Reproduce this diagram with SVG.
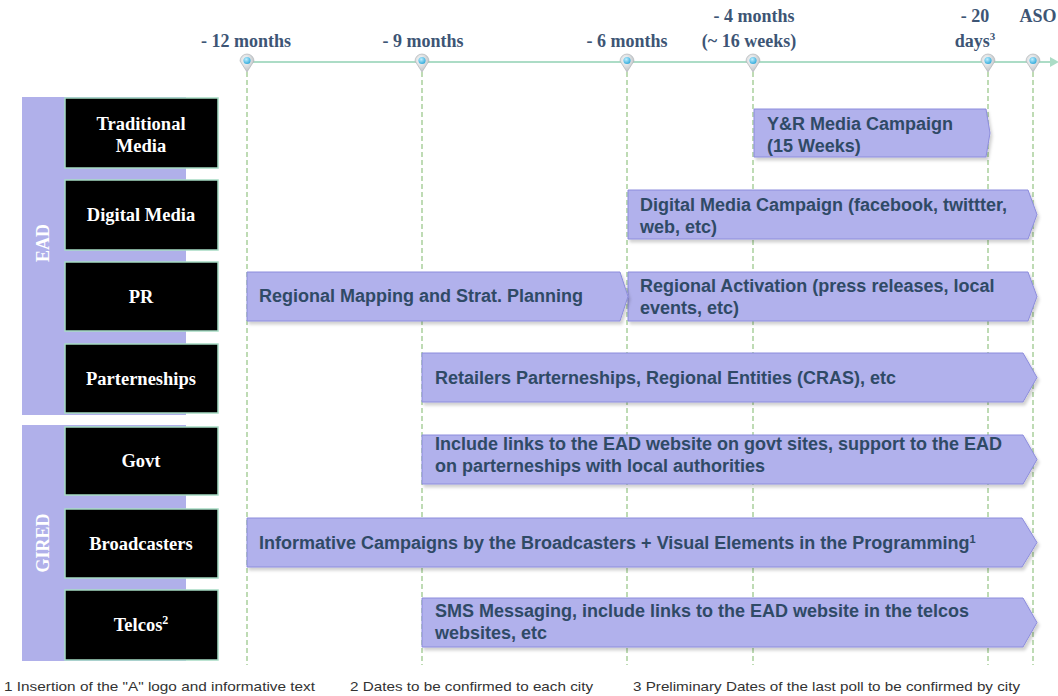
<svg xmlns="http://www.w3.org/2000/svg" width="1058" height="696" viewBox="0 0 1058 696">
<style>
.tl{font-family:"Liberation Serif","Times New Roman",serif;font-weight:bold;font-size:18px;fill:#3d5575;text-anchor:middle}
.box{fill:#000;stroke:#a6dcc4;stroke-width:1.5}
.bt{font-family:"Liberation Serif","Times New Roman",serif;font-weight:bold;font-size:18.5px;fill:#fff;text-anchor:middle}
.grp{fill:#b0b0ea}
.gt{font-family:"Liberation Serif","Times New Roman",serif;font-weight:bold;font-size:18px;fill:#fff;text-anchor:middle}
.bar{fill:#b1b1ec;stroke:#8c8cdc;stroke-width:1;filter:url(#sh)}
.bx{font-family:"Liberation Sans",Arial,sans-serif;font-weight:bold;font-size:18px;fill:#2f4a66}
.vl{stroke:#a9cf9c;stroke-width:1.5;stroke-dasharray:5 3;fill:none}
.fn{font-family:"Liberation Sans",Arial,sans-serif;font-size:13px;fill:#333}
</style>
<defs>
<filter id="sh" x="-5%" y="-20%" width="110%" height="150%">
<feDropShadow dx="2" dy="3" stdDeviation="1.5" flood-color="#000" flood-opacity="0.18"/>
</filter>
<radialGradient id="pg" cx="0.4" cy="0.35" r="0.7">
<stop offset="0" stop-color="#ffffff"/>
<stop offset="1" stop-color="#b8bcc0"/>
</radialGradient>
<radialGradient id="bd" cx="0.4" cy="0.35" r="0.7">
<stop offset="0" stop-color="#bfefff"/>
<stop offset="1" stop-color="#2aa6d8"/>
</radialGradient>
<g id="pin">
<path d="M-7,0 A7,7 0 1 1 7,0 L0,11 Z" fill="url(#pg)" stroke="#a8acb0" stroke-width="0.6"/>
<circle cx="0" cy="-0.5" r="3.6" fill="url(#bd)"/>
</g>
</defs>
<rect width="1058" height="696" fill="#fff"/>

<g id="connectors">
<line class="vl" x1="247" y1="72" x2="247" y2="665"/>
<line class="vl" x1="422" y1="72" x2="422" y2="665"/>
<line class="vl" x1="627" y1="72" x2="627" y2="665"/>
<line class="vl" x1="753" y1="72" x2="753" y2="665"/>
<line class="vl" x1="988" y1="72" x2="988" y2="665"/>
<line class="vl" x1="1033" y1="72" x2="1033" y2="665"/>
<line x1="247" y1="62" x2="1052" y2="62" stroke="#acdcc6" stroke-width="2"/>
<path d="M1050,57 L1059,62 L1050,67 Z" fill="#acdcc6"/>
</g>

<g id="timeline">
<use href="#pin" x="247" y="61"/>
<use href="#pin" x="422" y="61"/>
<use href="#pin" x="627" y="61"/>
<use href="#pin" x="753" y="61"/>
<use href="#pin" x="988" y="61"/>
<use href="#pin" x="1033" y="61"/>
<text class="tl" x="246" y="47">- 12 months</text>
<text class="tl" x="423" y="47">- 9 months</text>
<text class="tl" x="627" y="47">- 6 months</text>
<text class="tl" x="754" y="22">- 4 months</text>
<text class="tl" x="749" y="47">(~ 16 weeks)</text>
<text class="tl" x="975" y="22">- 20</text>
<text class="tl" x="975" y="47">days<tspan font-size="11" dy="-7">3</tspan></text>
<text class="tl" x="1038" y="22">ASO</text>
</g>

<g id="group-EAD">
<rect class="grp" x="22" y="97" width="164" height="318"/>
<text class="gt" transform="translate(49,243) rotate(-90)">EAD</text>
</g>
<g id="group-GIRED">
<rect class="grp" x="22" y="425" width="164" height="236"/>
<text class="gt" transform="translate(49,543) rotate(-90)">GIRED</text>
</g>

<g id="node-traditional-media">
<rect class="box" x="65" y="98" width="153" height="70"/>
<text class="bt" x="141" y="130">Traditional</text>
<text class="bt" x="141" y="152">Media</text>
</g>
<g id="node-digital-media">
<rect class="box" x="65" y="180" width="153" height="70"/>
<text class="bt" x="141" y="221">Digital Media</text>
</g>
<g id="node-pr">
<rect class="box" x="65" y="262" width="153" height="69"/>
<text class="bt" x="141" y="303">PR</text>
</g>
<g id="node-parterneships">
<rect class="box" x="65" y="344" width="153" height="69"/>
<text class="bt" x="141" y="385">Parterneships</text>
</g>
<g id="node-govt">
<rect class="box" x="65" y="427" width="153" height="68"/>
<text class="bt" x="141" y="467">Govt</text>
</g>
<g id="node-broadcasters">
<rect class="box" x="65" y="509" width="153" height="69"/>
<text class="bt" x="141" y="550">Broadcasters</text>
</g>
<g id="node-telcos">
<rect class="box" x="65" y="590" width="153" height="70"/>
<text class="bt" x="141" y="631">Telcos<tspan font-size="12" dy="-7">2</tspan></text>
</g>

<g id="bar-yr">
<path class="bar" d="M754,109 H986 L990,133 L986,157 H754 Z"/>
<text class="bx" x="767" y="130">Y&amp;R Media Campaign</text>
<text class="bx" x="767" y="152">(15 Weeks)</text>
</g>
<g id="bar-digital">
<path class="bar" d="M628,190 H1028 L1037,214.5 L1028,239 H628 Z"/>
<text class="bx" x="640" y="211">Digital Media Campaign (facebook, twittter,</text>
<text class="bx" x="640" y="233">web, etc)</text>
</g>
<g id="bar-pr-activation">
<path class="bar" d="M628,272 H1028 L1037,296.5 L1028,321 H628 Z"/>
<text class="bx" x="640" y="292">Regional Activation (press releases, local</text>
<text class="bx" x="640" y="314">events, etc)</text>
</g>
<g id="bar-pr-mapping">
<path class="bar" d="M247,272 H620 L628,296.5 L620,321 H247 Z"/>
<text class="bx" x="259" y="302">Regional Mapping and Strat. Planning</text>
</g>
<g id="bar-parterneships">
<path class="bar" d="M422,353 H1023 L1037,377.5 L1023,402 H422 Z"/>
<text class="bx" x="435" y="384">Retailers Parterneships, Regional Entities (CRAS), etc</text>
</g>
<g id="bar-govt">
<path class="bar" d="M422,435 H1023 L1037,459.5 L1023,484 H422 Z"/>
<text class="bx" x="435" y="450">Include links to the EAD website on govt sites, support to the EAD</text>
<text class="bx" x="435" y="472">on parterneships with local authorities</text>
</g>
<g id="bar-broadcasters">
<path class="bar" d="M247,518 H1022 L1037,542.5 L1022,567 H247 Z"/>
<text class="bx" x="259" y="549">Informative Campaigns by the Broadcasters + Visual Elements in the Programming<tspan font-size="11" dy="-6">1</tspan></text>
</g>
<g id="bar-telcos">
<path class="bar" d="M422,598 H1023 L1037,622.5 L1023,647 H422 Z"/>
<text class="bx" x="435" y="617">SMS Messaging, include links to the EAD website in the telcos</text>
<text class="bx" x="435" y="639">websites, etc</text>
</g>

<g id="footnotes">
<text class="fn" x="4" y="691" textLength="311" lengthAdjust="spacingAndGlyphs">1 Insertion of the "A" logo and informative text</text>
<text class="fn" x="350" y="691" textLength="243" lengthAdjust="spacingAndGlyphs">2 Dates to be confirmed to each city</text>
<text class="fn" x="633" y="691" textLength="387" lengthAdjust="spacingAndGlyphs">3 Preliminary Dates of the last poll to be confirmed by city</text>
</g>
</svg>
